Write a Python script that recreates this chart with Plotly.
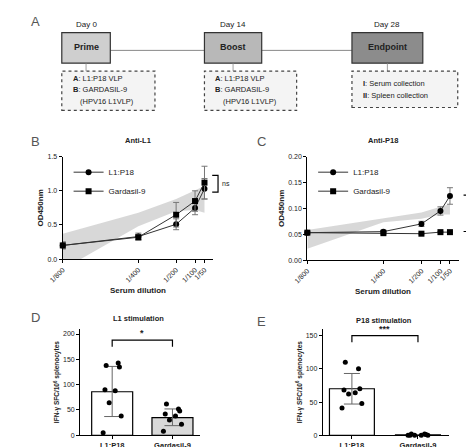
import plotly.graph_objects as go

W, H = 474, 447
def px(x): return x / W
def py(y): return 1 - y / H

# ---- data ----
dil_labels = ["1/800", "1/400", "1/200", "1/100", "1/50"]
dil_denoms = [800, 400, 200, 100, 50]
b_l1 = [0.20, 0.33, 0.51, 0.75, 1.03]
b_l1_err = [0.05, 0.05, 0.08, 0.10, 0.15]
b_g9 = [0.20, 0.32, 0.65, 0.85, 1.12]
b_g9_err = [0.05, 0.04, 0.18, 0.15, 0.24]
b_band_hi = [0.37, 0.68, 0.88, 1.00, 1.07]
b_band_lo = [-0.15, 0.48, 0.70, 0.72, 0.68]
c_l1 = [0.053, 0.055, 0.070, 0.095, 0.124]
c_l1_err = [0.003, 0.003, 0.005, 0.008, 0.016]
c_g9 = [0.053, 0.052, 0.051, 0.054, 0.054]
c_g9_err = [0.002, 0.002, 0.001, 0.001, 0.001]
c_band_hi = [0.058, 0.080, 0.092, 0.103, 0.108]
c_band_lo = [0.022, 0.073, 0.080, 0.088, 0.088]

groups = ["L1:P18", "Gardasil-9"]
d_means = [86, 35]
d_sd_lo = [37, 19]
d_sd_hi = [136, 52]
d_pts_l1 = [138, 143, 135, 90, 88, 64, 38, 5]
d_pts_g9 = [62, 52, 48, 42, 38, 30, 22, 8]
e_means = [70, 0.5]
e_sd_lo = [47, 0]
e_sd_hi = [93, 1]
e_pts_l1 = [110, 100, 70, 68, 64, 62, 48, 41]
e_pts_g9 = [2, 2, 1, 0, 0, 0, 0, 0]
jitter = [-0.1, 0.1, 0.12, -0.12, 0.05, -0.05, 0.15, -0.15]

xs = [-d for d in dil_denoms]
fig = go.Figure()
FONT = "Liberation Sans"

def band(xa, ya, lo, hi):
    fig.add_trace(go.Scatter(x=xs, y=lo, mode="lines", line=dict(width=0), xaxis=xa, yaxis=ya,
                             showlegend=False, hoverinfo="skip"))
    fig.add_trace(go.Scatter(x=xs, y=hi, mode="lines", line=dict(width=0), fill="tonexty",
                             fillcolor="rgba(190,190,190,0.6)", xaxis=xa, yaxis=ya,
                             showlegend=False, hoverinfo="skip"))

def series(xa, ya, y, err, name, sym, leg):
    fig.add_trace(go.Scatter(x=xs, y=y, mode="lines+markers", name=name,
                             line=dict(color="#333", width=1),
                             marker=dict(symbol=sym, size=6, color="black"),
                             error_y=dict(type="data", array=err, color="#777", width=3, thickness=1),
                             xaxis=xa, yaxis=ya, legend=leg, cliponaxis=False))

band("x", "y", b_band_lo, b_band_hi)
series("x", "y", b_l1, b_l1_err, "L1:P18", "circle", "legend")
series("x", "y", b_g9, b_g9_err, "Gardasil-9", "square", "legend")
band("x2", "y2", c_band_lo, c_band_hi)
series("x2", "y2", c_l1, c_l1_err, "L1:P18", "circle", "legend2")
series("x2", "y2", c_g9, c_g9_err, "Gardasil-9", "square", "legend2")

def bars(xa, ya, means, lo, hi, p1, p2):
    fig.add_trace(go.Bar(x=[0, 1], y=means, width=0.68, marker=dict(color=["white", "#d9d9d9"],
                         line=dict(color="black", width=1.2)), xaxis=xa, yaxis=ya, showlegend=False))
    fig.add_trace(go.Scatter(x=[0, 1], y=means, mode="markers", marker=dict(size=0.1, color="#666"),
                             error_y=dict(type="data", symmetric=False,
                                          array=[h - m for h, m in zip(hi, means)],
                                          arrayminus=[m - l for l, m in zip(lo, means)],
                                          color="#666", width=8, thickness=1),
                             xaxis=xa, yaxis=ya, showlegend=False))
    for i, pts in enumerate([p1, p2]):
        fig.add_trace(go.Scatter(x=[i + j for j in jitter], y=pts, mode="markers",
                                 marker=dict(size=5, color="black"), xaxis=xa, yaxis=ya,
                                 showlegend=False, cliponaxis=False))

bars("x3", "y3", d_means, d_sd_lo, d_sd_hi, d_pts_l1, d_pts_g9)
bars("x4", "y4", e_means, e_sd_lo, e_sd_hi, e_pts_l1, e_pts_g9)

ax = dict(showline=True, linecolor="black", linewidth=1.2, ticks="outside", ticklen=3,
          tickcolor="black", showgrid=False, zeroline=False,
          tickfont=dict(size=7, family=FONT, color="#222"))
dilx = dict(ax, tickvals=xs, ticktext=dil_labels, tickangle=-45)
leg = dict(xanchor="left", yanchor="top", bgcolor="rgba(0,0,0,0)", traceorder="normal",
           font=dict(size=8), tracegroupgap=0, itemwidth=30)
fig.update_layout(
    width=W, height=H, margin=dict(l=0, r=0, t=0, b=0), plot_bgcolor="white", paper_bgcolor="white",
    font=dict(family=FONT, color="#222"), barmode="overlay",
    xaxis=dict(dilx, anchor="y", domain=[px(42), px(197)], range=[-800, -4],
               title=dict(text="<b>Serum dilution</b>", font=dict(size=8), standoff=4)),
    yaxis=dict(ax, anchor="x", domain=[py(251), py(147)], range=[0, 1.5], tickvals=[0, 0.5, 1.0, 1.5],
               ticktext=["0.0", "0.5", "1.0", "1.5"],
               title=dict(text="<b>OD450nm</b>", font=dict(size=8), standoff=2)),
    xaxis2=dict(dilx, anchor="y2", domain=[px(294), px(450)], range=[-800, -4],
                title=dict(text="<b>Serum dilution</b>", font=dict(size=8), standoff=4)),
    yaxis2=dict(ax, anchor="x2", domain=[py(252), py(147)], range=[0, 0.2], tickvals=[0, 0.05, 0.1, 0.15, 0.2],
                ticktext=["0.00", "0.05", "0.10", "0.15", "0.20"],
                title=dict(text="<b>OD450nm</b>", font=dict(size=8), standoff=2)),
    xaxis3=dict(ax, anchor="y3", domain=[px(60), px(183)], range=[-0.53, 1.45], tickvals=[0, 1],
                ticktext=["<b>" + g + "</b>" for g in groups], tickfont=dict(size=7.5)),
    yaxis3=dict(ax, anchor="x3", domain=[py(430), py(322)], range=[0, 210], tickvals=[0, 50, 100, 150, 200],
                title=dict(text="<b>IFN-γ SFC/10<sup>6</sup> splenocytes</b>", font=dict(size=6.5), standoff=2)),
    xaxis4=dict(ax, anchor="y4", domain=[px(310), px(440)], range=[-0.44, 1.47], tickvals=[0, 1],
                ticktext=["<b>" + g + "</b>" for g in groups], tickfont=dict(size=7.5)),
    yaxis4=dict(ax, anchor="x4", domain=[py(430), py(322)], range=[0, 160], tickvals=[0, 50, 100, 150],
                title=dict(text="<b>IFN-γ SFC/10<sup>6</sup> splenocytes</b>", font=dict(size=6.5), standoff=2)),
    legend=dict(leg, x=px(48), y=py(148)),
    legend2=dict(leg, x=px(300), y=py(148)),
)

shapes, anns = [], []
def text(x, y, t, size=8, bold=False, color="#222", xanchor="center"):
    anns.append(dict(x=px(x), y=py(y), xref="paper", yref="paper", text=f"<b>{t}</b>" if bold else t,
                     showarrow=False, font=dict(size=size, color=color), xanchor=xanchor, yanchor="middle"))

# Panel A
shapes.append(dict(type="line", xref="paper", yref="paper", x0=px(91), x1=px(340), y0=py(39), y1=py(39),
                   line=dict(color="#888", width=1)))
for (x0, x1, fill, lab, day) in [(41, 91, "#cfcfcf", "Prime", "Day 0"), (188, 247, "#b8b8b8", "Boost", "Day 14"),
                                 (340, 413, "#8c8c8c", "Endpoint", "Day 28")]:
    shapes.append(dict(type="rect", xref="paper", yref="paper", x0=px(x0), x1=px(x1), y0=py(52), y1=py(21),
                       fillcolor=fill, line=dict(color="#333", width=1.2)))
    shapes.append(dict(type="line", xref="paper", yref="paper", x0=px((x0 + x1) / 2), x1=px((x0 + x1) / 2),
                       y0=py(52), y1=py(60), line=dict(color="#888", width=0.8)))
    text((x0 + x1) / 2, 36, lab, 9, True)
    text((x0 + x1) / 2, 13, day, 8)
for (x0, x1, y1) in [(41, 137, 100), (188, 283, 100), (340, 449, 97)]:
    shapes.append(dict(type="rect", xref="paper", yref="paper", x0=px(x0), x1=px(x1), y0=py(y1), y1=py(60),
                       fillcolor="#f4f4f4", line=dict(color="#444", width=1.2, dash="dot")))
for x in (50, 197):
    text(x, 68, "<b>A</b>: L1:P18 VLP", 7.5, xanchor="left")
    text(x, 79, "<b>B</b>: GARDASIL-9", 7.5, xanchor="left")
    text(x + 8, 91, "(HPV16 L1VLP)", 7.5, xanchor="left")
text(349, 73, "<b>I</b>: Serum collection", 7.5, xanchor="left")
text(349, 85, "<b>II</b>: Spleen collection", 7.5, xanchor="left")

# panel letters & titles
for (x, y, t) in [(7, 10, "A"), (7, 132, "B"), (240, 132, "C"), (7, 310, "D"), (240, 314, "E")]:
    text(x, y, t, 13, False, "#555", "left")
text(120, 131, "Anti-L1", 7.5, True)
text(372, 131, "Anti-P18", 7.5, True)
text(120, 311, "L1 stimulation", 7.5, True)
text(373, 313, "P18 stimulation", 7.5, True)

# significance brackets
def bracket_v(x0, x1, ya, yb, label, lx):
    shapes.append(dict(type="path", xref="paper", yref="paper",
                       path=f"M {px(x0)},{py(ya)} L {px(x1)},{py(ya)} L {px(x1)},{py(yb)} L {px(x0)},{py(yb)}",
                       line=dict(color="black", width=1.2)))
    text(lx, (ya + yb) / 2, label, 7 if label == "ns" else 9, label != "ns", xanchor="left")
bracket_v(196, 202, 166, 183, "ns", 204)
bracket_v(455, 460, 186, 223, "**", 462)

def bracket_h(xa, ya, ytop, ydrop, label):
    shapes.append(dict(type="path", xref=xa, yref=ya,
                       path=f"M 0,{ydrop} L 0,{ytop} L 1,{ytop} L 1,{ydrop}",
                       line=dict(color="black", width=1.2)))
    anns.append(dict(x=0.5, y=ytop, xref=xa, yref=ya, text="<b>" + label + "</b>", showarrow=False,
                     yanchor="bottom", font=dict(size=9)))
bracket_h("x3", "y3", 188, 175, "*")
bracket_h("x4", "y4", 150, 140, "***")

fig.update_layout(shapes=shapes, annotations=anns)
fig.write_html("out.html")
